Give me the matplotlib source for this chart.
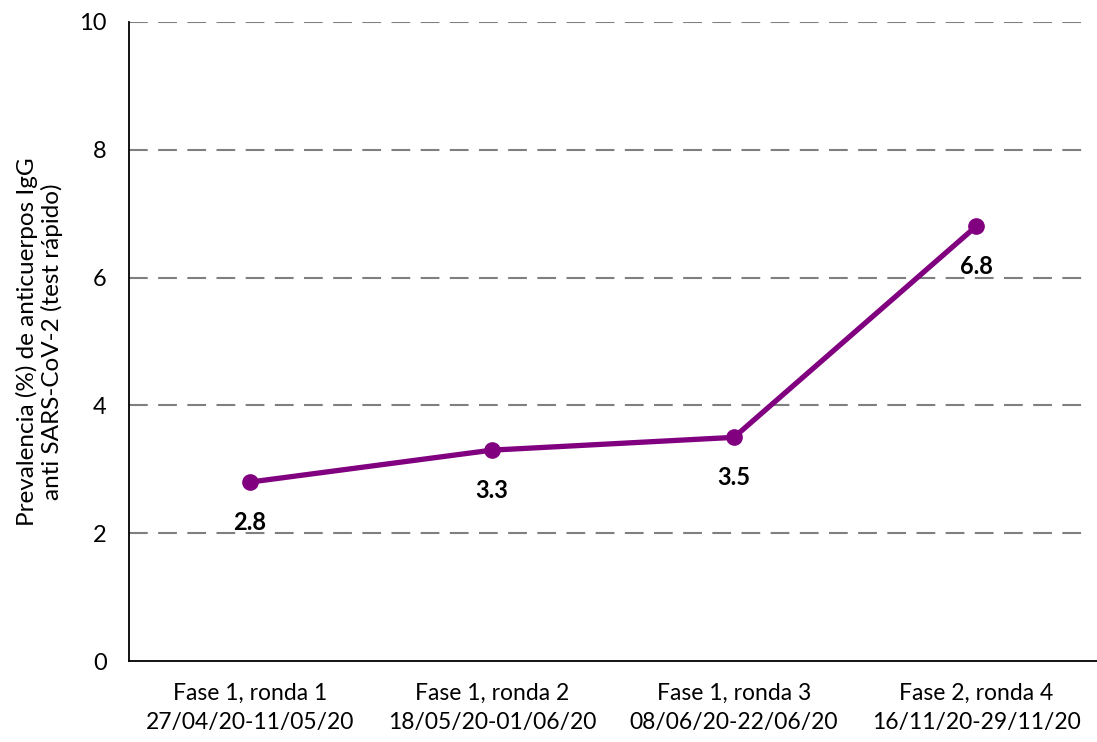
import matplotlib
matplotlib.use("Agg")
import matplotlib.pyplot as plt

plt.rcParams["font.family"] = ["Lato", "DejaVu Sans"]

categories = [
    "Fase 1, ronda 1\n27/04/20-11/05/20",
    "Fase 1, ronda 2\n18/05/20-01/06/20",
    "Fase 1, ronda 3\n08/06/20-22/06/20",
    "Fase 2, ronda 4\n16/11/20-29/11/20",
]
prevalence = [2.8, 3.3, 3.5, 6.8]
y_ticks = [0, 2, 4, 6, 8, 10]

PURPLE = "#800080"

fig = plt.figure(figsize=(10.97, 7.42), dpi=100)
ax = fig.add_axes([129 / 1097, 1 - 661 / 742, 1 - 129 / 1097, (661 - 22) / 742])

x = list(range(len(categories)))
ax.plot(x, prevalence, color=PURPLE, linewidth=3.8, marker="o", markersize=11, zorder=3,
        solid_capstyle="round")

for xi, v in zip(x, prevalence):
    ax.annotate(f"{v}", (xi, v), xytext=(0, -29), textcoords="offset points",
                ha="center", va="center", fontsize=17, fontweight="bold", color="black")

ax.set_xlim(-0.5, len(categories) - 0.5)
ax.set_ylim(0, 10)
ax.set_yticks(y_ticks)
ax.set_yticklabels([str(t) for t in y_ticks])
ax.set_xticks(x)
ax.set_xticklabels(categories, fontsize=16.5, linespacing=1.45)
ax.tick_params(axis="y", labelsize=17, length=0, pad=16)
ax.tick_params(axis="x", length=0, pad=16)

for t in y_ticks[1:]:
    ax.axhline(t, color="#7f7f7f", linewidth=1.5, linestyle=(0, (9, 5)), zorder=1, xmax=0.993)

for side in ("top", "right"):
    ax.spines[side].set_visible(False)
for side in ("left", "bottom"):
    ax.spines[side].set_color("black")
    ax.spines[side].set_linewidth(1.3)

ax.set_ylabel("Prevalencia (%) de anticuerpos IgG\nanti SARS-CoV-2 (test rápido)",
              fontsize=17.5, linespacing=1.15, labelpad=12)

fig.savefig("out.png", dpi=100)
